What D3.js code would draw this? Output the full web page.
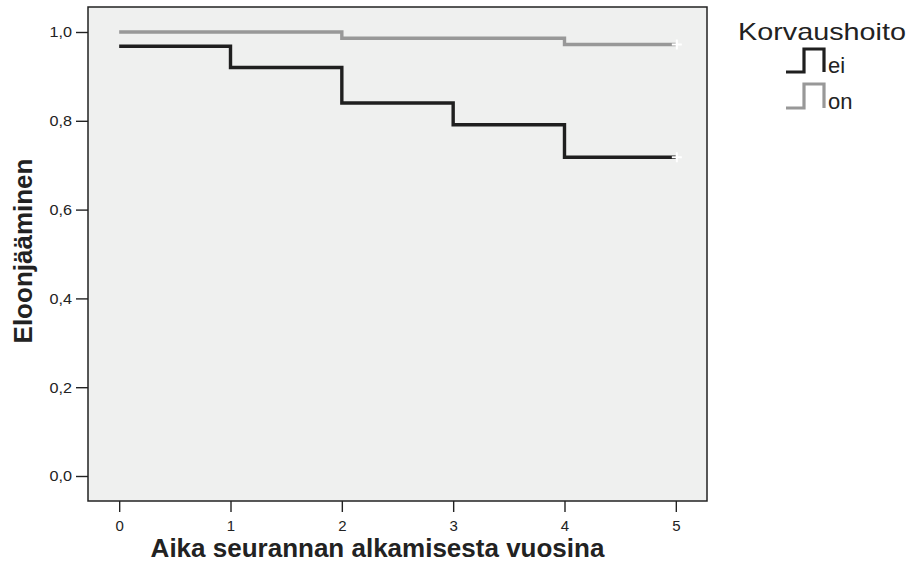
<!DOCTYPE html>
<html><head><meta charset="utf-8">
<script src="https://cdn.jsdelivr.net/npm/d3@7"></script>
<style>body{margin:0;background:#fff}svg{display:block}text{font-family:Arial,"Liberation Sans",sans-serif}</style>
</head><body><svg id="c" width="908" height="572"></svg>
<script>
const times = [0, 1, 2, 3, 4, 5];
const eiSurv = [0.968, 0.920, 0.840, 0.791, 0.718, 0.718];
const onSurv = [1.000, 1.000, 0.986, 0.986, 0.972, 0.972];
const seriesNames = ["ei", "on"];
const seriesColors = ["#1f1f1f", "#989898"];
const xTicks = [0, 1, 2, 3, 4, 5];
const yTicks = [0, 0.2, 0.4, 0.6, 0.8, 1.0];
const legendTitle = "Korvaushoito";
const xTitle = "Aika seurannan alkamisesta vuosina";
const yTitle = "Eloonjääminen";

const svg = d3.select("#c");
const L = 88, R = 707, T = 7, B = 501;
const x = d3.scaleLinear().domain([-0.28, 5.28]).range([L, R]);
const y = d3.scaleLinear().domain([0, 1]).range([476, 32]);

svg.append("rect").attr("x", L).attr("y", T).attr("width", R - L).attr("height", B - T)
  .attr("fill", "#eff0ef");

const fmt = d => d3.format(".1f")(d).replace(".", ",");
const yAxis = svg.append("g").attr("transform", `translate(${L},0)`)
  .call(d3.axisLeft(y).tickValues(yTicks).tickFormat(fmt).tickSize(12).tickPadding(4));
const xAxis = svg.append("g").attr("transform", `translate(0,${B})`)
  .call(d3.axisBottom(x).tickValues(xTicks).tickFormat(d3.format("d")).tickSize(11).tickPadding(8));
[yAxis, xAxis].forEach(a => {
  a.attr("font-size", null).attr("font-family", null);
  a.select(".domain").remove();
  a.selectAll("line").attr("stroke", "#222").attr("stroke-width", 1.4);
  a.selectAll("text").style("font-size", "15px").attr("fill", "#222")
    .style("font-family", "Arial, 'Liberation Sans', sans-serif");
});
yAxis.selectAll(".tick text").attr("x", 0).attr("transform", "translate(-16,0) scale(1.08,1)");

svg.append("rect").attr("x", L).attr("y", T).attr("width", R - L).attr("height", B - T)
  .attr("fill", "none").attr("stroke", "#222").attr("stroke-width", 1.5);

const series = [eiSurv, onSurv];
const line = d3.line().x(d => x(d[0])).y(d => y(d[1])).curve(d3.curveStepAfter);
series.forEach((s, i) => {
  const pts = times.map((t, j) => [t, s[j]]);
  svg.append("path").attr("d", line(pts)).attr("fill", "none")
    .attr("stroke", seriesColors[i]).attr("stroke-width", 3.4).attr("stroke-linejoin", "miter");
  const last = pts[pts.length - 1];
  const cx = x(last[0]) + 1, cy = y(last[1]);
  svg.append("path").attr("d", `M${cx-5},${cy}H${cx+5}M${cx},${cy-5}V${cy+5}`)
    .attr("stroke", "#fff").attr("stroke-width", 2);
});

// legend
const lt = svg.append("text").attr("x", 0).attr("y", 0).attr("font-size", 23).attr("fill", "#222").text(legendTitle);
const ltw = lt.node().getComputedTextLength();
lt.attr("transform", `translate(738,40) scale(${168 / ltw},1)`);
const symTop = [49, 84], symBot = [72, 108];
seriesNames.forEach((n, i) => {
  svg.append("path").attr("d", `M786,${symBot[i]}H804V${symTop[i]}H824V${symBot[i]}`)
    .attr("fill", "none").attr("stroke", seriesColors[i]).attr("stroke-width", 3.2);
  svg.append("text").attr("x", 828).attr("y", symBot[i] + 1).attr("font-size", 22).attr("fill", "#222").text(n);
});

svg.append("text").attr("x", 377.5).attr("y", 557).attr("text-anchor", "middle")
  .attr("font-size", 26).attr("font-weight", "bold").attr("fill", "#222").text(xTitle);
svg.append("text").attr("transform", "translate(32,251) rotate(-90)").attr("text-anchor", "middle")
  .attr("font-size", 26).attr("font-weight", "bold").attr("fill", "#222").text(yTitle);
</script></body></html>
